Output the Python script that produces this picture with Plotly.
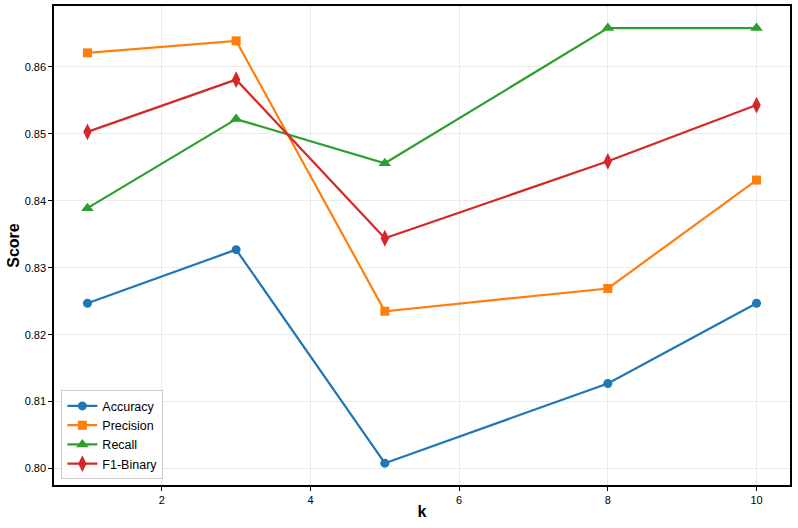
import plotly.graph_objects as go

k_values = [1, 3, 5, 8, 10]
accuracy = [0.8247, 0.8327, 0.8008, 0.8127, 0.8247]
precision = [0.8621, 0.8639, 0.8235, 0.8269, 0.8431]
recall = [0.8389, 0.8522, 0.8456, 0.8658, 0.8658]
f1_binary = [0.8503, 0.8581, 0.8344, 0.8459, 0.8543]

series = [
    ("Accuracy", accuracy, "#1f77b4", "circle", 9),
    ("Precision", precision, "#ff7f0e", "square", 9),
    ("Recall", recall, "#2ca02c", "triangle-up", 11),
    ("F1-Binary", f1_binary, "#d62728", "diamond-tall", 12),
]

fig = go.Figure()
for name, vals, color, sym, sz in series:
    fig.add_trace(go.Scatter(
        x=k_values, y=vals, name=name, mode="lines+markers",
        line=dict(color=color, width=2.2),
        marker=dict(symbol=sym, size=sz, color=color),
    ))

axis_common = dict(
    showline=True, linecolor="black", linewidth=1.5, mirror=True,
    ticks="outside", ticklen=4, tickcolor="black",
    showgrid=True, gridcolor="#ebebeb", gridwidth=1,
    zeroline=False, automargin=False,
    tickfont=dict(family="Liberation Sans, Arial, sans-serif", size=11, color="black"),
)

fig.update_layout(
    width=798, height=528,
    margin=dict(l=54, r=8, t=6, b=43),
    paper_bgcolor="white", plot_bgcolor="white",
    font=dict(family="Liberation Sans, Arial, sans-serif", color="black"),
    xaxis=dict(axis_common, range=[0.55, 10.45], tickvals=[2, 4, 6, 8, 10],
               title=dict(text="<b>k</b>", font=dict(size=16), standoff=1)),
    yaxis=dict(axis_common, range=[0.79754, 0.8691], dtick=0.01, tickformat=".2f",
               title=dict(text="<b>Score</b>", font=dict(size=16), standoff=1)),
    legend=dict(x=0.01, y=0.012, xanchor="left", yanchor="bottom",
                bgcolor="white", bordercolor="#cccccc", borderwidth=1,
                font=dict(size=12.5), tracegroupgap=0, itemwidth=30),
    showlegend=True,
)

fig.write_html("out.html", config={"displayModeBar": False},
               post_script="document.body.style.margin='0px';")
